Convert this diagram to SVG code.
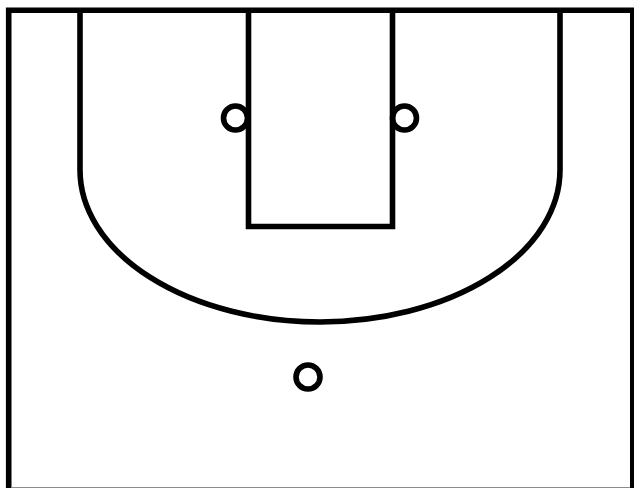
<svg xmlns="http://www.w3.org/2000/svg" width="634" height="488" viewBox="0 0 634 488">
<style>.l{fill:none;stroke:#000;stroke-width:5.6}</style>
<rect width="634" height="488" fill="#fff"/>
<circle class="l" cx="235.5" cy="118" r="12"/>
<circle class="l" cx="404.5" cy="118" r="12"/>
<circle class="l" cx="308" cy="377" r="12"/>
<path class="l" d="M8.7 488V10.2H632.8V488"/>
<path d="M11 487.5H630" stroke="#8c8c8c" fill="none" stroke-width="1"/>
<path class="l" d="M248.5 10V226.5H392.5V10"/>
<path class="l" d="M80 10V170A240 152 0 0 0 560 170V10"/>
</svg>
